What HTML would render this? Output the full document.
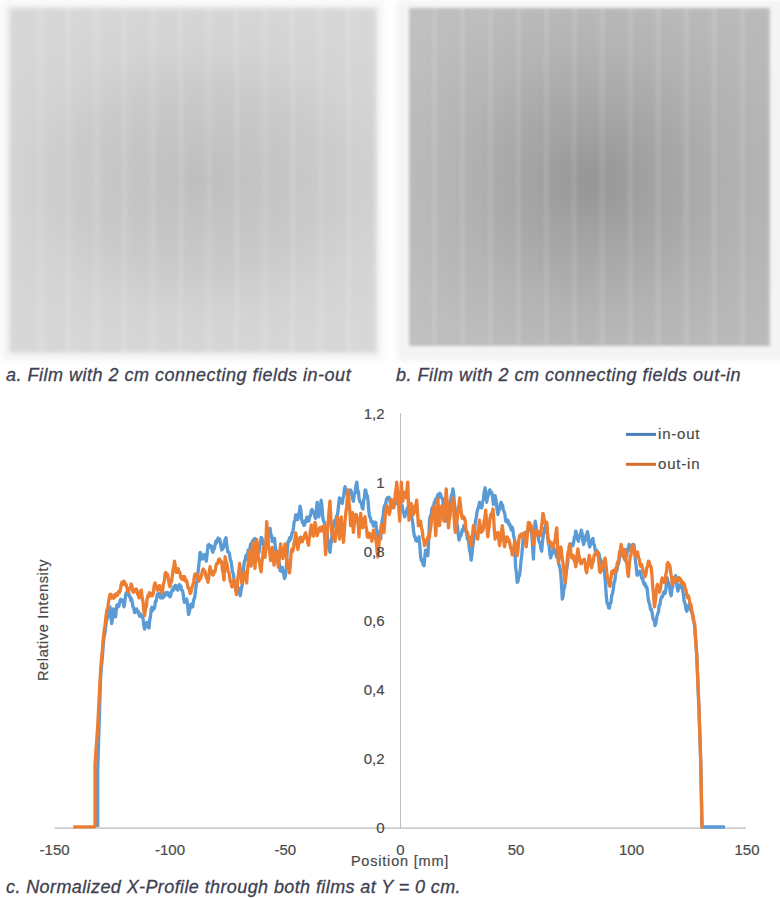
<!DOCTYPE html>
<html><head><meta charset="utf-8">
<style>
html,body{margin:0;padding:0;background:#fff;}
body{width:780px;height:898px;position:relative;overflow:hidden;font-family:"Liberation Sans",sans-serif;}
.film{position:absolute;filter:blur(1.6px);}
#fa{left:8.5px;top:8px;width:368px;height:344.5px;filter:blur(2.1px);
 background:
  repeating-linear-gradient(90deg, rgba(255,255,255,0) 0px, rgba(255,255,255,0) 21.5px, rgba(255,255,255,0.2) 25px, rgba(255,255,255,0) 28px),
  radial-gradient(ellipse 210px 150px at 191.5px 172px, #bebebe 0%, #c4c4c4 30%, #cacaca 60%, #d3d3d3 90%, #d7d7d7 120%, #d8d8d8 150%);
 background-position: 6.9px 0, 0 0;}
#fah{left:2px;top:1px;width:381px;height:360px;background:#f6f6f6;filter:blur(2px);}
#fbh{left:397px;top:1px;width:390px;height:360px;background:#f4f4f4;filter:blur(2px);}
#fb{left:409px;top:7.5px;width:361px;height:338.5px;filter:blur(1.8px);
 background:
  repeating-linear-gradient(90deg, rgba(255,255,255,0) 0px, rgba(255,255,255,0) 21.5px, rgba(255,255,255,0.16) 25px, rgba(255,255,255,0) 28px),
  linear-gradient(90deg, rgba(255,255,255,0.03), rgba(0,0,0,0.02)),
  radial-gradient(ellipse 200px 185px at 181px 172.5px, #959595 0%, #a5a5a5 35%, #b3b3b3 70%, #bbbbbb 100%, #bfbfbf 130%);
 background-position: 0.3px 0, 0 0, 0 0;}
.cap{position:absolute;font-style:italic;color:#3d4150;font-size:18px;line-height:18px;white-space:nowrap;-webkit-text-stroke:0.3px #3d4150;}
</style></head><body>
<div class="film" id="fah"></div>
<div class="film" id="fa"></div>
<div class="film" id="fbh"></div>
<div class="film" id="fb"></div>
<div class="cap" id="ca" style="left:6px;top:366px;letter-spacing:0.5px">a. Film with 2 cm connecting fields in-out</div>
<div class="cap" id="cb" style="left:396px;top:366px;letter-spacing:0.5px">b. Film with 2 cm connecting fields out-in</div>
<div class="cap" id="cc" style="left:6px;top:878px;letter-spacing:0.4px">c. Normalized X-Profile through both films at Y = 0 cm.</div>

<svg id="chart" width="780" height="898" style="position:absolute;left:0;top:0">
 <line x1="400.5" y1="413" x2="400.5" y2="828" stroke="#bfbfbf" stroke-width="1"/>
 <line x1="54.5" y1="828.1" x2="746" y2="828.1" stroke="#bababa" stroke-width="1.2"/>
 <g font-family="Liberation Sans" font-size="15" fill="#4a4a4a" stroke="#4a4a4a" stroke-width="0.2" text-anchor="middle">
  <text x="54.6" y="855">-150</text>
  <text x="170" y="855">-100</text>
  <text x="285.3" y="855">-50</text>
  <text x="400.5" y="855">0</text>
  <text x="516" y="855">50</text>
  <text x="631.5" y="855">100</text>
  <text x="747" y="855">150</text>
 </g>
 <text font-family="Liberation Sans" font-size="14.5" fill="#4a4a4a" stroke="#4a4a4a" stroke-width="0.2" text-anchor="middle" letter-spacing="0.8" x="400" y="865.5">Position [mm]</text>
 <text font-family="Liberation Sans" font-size="14.5" fill="#4a4a4a" stroke="#4a4a4a" stroke-width="0.2" text-anchor="middle" letter-spacing="0.65" transform="translate(47.5,620) rotate(-90)">Relative Intensity</text>
 <g id="lines"><polyline fill="none" stroke="#5b9bd5" stroke-width="3.3" stroke-linejoin="round" points="97.7,827.0 97.7,770.0 100.5,680.0 101.4,667.3 102.3,658.3 103.2,645.0 104.1,636.7 105.0,632.8 105.9,625.0 106.8,619.3 107.8,617.6 108.7,612.0 110.0,606.8 110.8,613.7 111.7,623.5 112.6,617.9 113.4,609.0 114.1,610.6 114.9,615.1 115.6,616.8 116.7,605.7 117.6,604.6 118.4,606.8 119.2,605.3 120.0,601.2 120.8,599.2 121.5,601.4 122.3,600.1 123.2,602.1 124.0,606.8 124.8,602.2 125.6,594.6 126.4,592.7 127.1,594.8 127.9,592.3 128.6,592.3 129.4,596.6 130.1,596.4 130.8,600.4 131.6,599.0 132.3,602.4 133.0,607.0 133.8,608.0 134.5,612.4 135.3,612.5 136.0,609.2 136.8,609.0 137.5,612.0 138.3,611.4 139.0,614.6 139.8,616.2 140.7,614.0 141.5,616.5 142.3,615.7 143.1,619.1 143.8,625.9 144.6,629.1 145.3,625.7 146.1,625.6 146.8,622.4 147.5,622.6 148.3,627.5 149.0,628.0 149.7,620.2 150.5,616.4 151.2,609.0 151.9,607.2 152.6,610.7 153.3,608.0 154.0,609.0 154.7,607.1 155.4,601.4 156.1,601.4 156.8,596.8 157.5,594.0 158.3,595.9 159.0,593.5 159.8,593.3 160.5,597.9 161.3,597.9 162.0,596.0 162.8,597.9 163.5,594.0 164.2,596.6 165.0,592.9 165.7,593.5 166.4,594.4 167.2,592.4 167.9,592.6 168.6,595.7 169.3,594.1 170.0,596.8 170.7,595.8 171.5,591.3 172.2,590.1 173.0,590.6 173.8,586.8 174.5,589.0 175.3,585.3 176.1,585.7 176.9,589.2 177.8,590.1 178.7,586.0 179.5,584.6 180.2,587.6 180.9,586.0 181.6,590.0 182.3,590.1 183.0,592.9 183.8,599.2 184.5,602.4 185.2,600.3 186.0,601.7 186.7,599.0 187.6,605.0 188.6,614.6 189.6,611.0 190.6,604.6 191.3,604.1 192.1,607.1 192.8,606.8 193.7,599.9 194.7,597.5 195.6,590.1 196.4,583.5 197.3,580.1 198.4,569.0 199.2,562.0 200.1,552.3 200.8,552.9 201.6,557.9 202.3,559.0 203.0,556.1 203.8,557.8 204.5,554.5 205.3,556.4 206.2,561.2 207.1,554.7 207.9,545.6 208.8,544.5 209.8,547.0 210.7,545.6 211.4,546.1 212.2,551.0 212.9,552.3 213.6,548.1 214.4,548.7 215.1,544.5 215.8,541.3 216.6,543.1 217.3,540.0 218.1,538.0 218.8,540.6 219.6,538.9 220.3,541.2 221.1,547.6 221.8,550.0 222.5,547.2 223.3,548.0 224.0,544.5 225.0,539.7 226.0,537.8 226.9,546.1 227.9,552.3 228.8,552.0 229.6,554.5 230.3,559.9 231.1,561.4 231.8,566.7 232.5,572.0 233.3,573.5 234.0,579.0 234.8,583.8 235.5,584.2 236.3,589.0 237.0,589.9 237.8,587.3 238.5,587.9 239.3,592.9 240.2,595.7 241.2,589.4 242.2,585.2 243.0,578.5 243.7,567.2 244.5,560.7 245.2,560.5 246.0,555.3 246.7,555.1 247.4,554.9 248.2,550.2 248.9,549.5 249.7,549.2 250.6,544.1 251.4,544.6 252.2,541.7 253.0,540.2 253.9,541.5 254.8,538.5 255.6,539.5 256.4,544.0 257.2,545.2 258.1,551.0 258.9,552.9 259.7,546.5 260.4,543.5 261.2,537.3 262.0,538.5 262.8,541.7 263.5,544.5 264.2,543.4 264.9,547.0 265.6,547.3 266.4,542.6 267.1,542.3 267.9,536.7 268.6,536.0 269.4,530.6 270.1,528.4 270.8,534.1 271.6,536.0 272.3,541.7 273.0,541.7 273.8,538.5 274.5,538.4 275.6,549.5 276.4,552.7 277.1,551.1 277.9,554.0 278.6,560.7 279.4,563.7 280.1,570.7 280.8,571.2 281.6,567.6 282.3,567.4 283.0,572.0 283.8,573.8 284.5,578.5 285.4,575.6 286.2,569.6 287.0,554.6 287.9,541.7 288.7,542.1 289.5,538.0 290.4,539.8 291.2,537.3 292.0,532.9 292.7,532.4 293.5,527.3 294.2,521.6 295.0,520.5 295.7,515.0 296.4,515.4 297.2,519.5 297.9,519.5 298.6,513.8 299.4,512.0 300.1,506.1 300.9,510.5 301.6,518.7 302.4,522.8 303.1,522.6 303.9,525.4 304.6,525.0 305.3,520.6 306.1,521.5 306.8,517.2 307.5,517.2 308.3,521.1 309.0,520.6 309.8,516.1 310.5,515.7 311.3,510.6 312.0,509.4 312.8,512.6 313.5,511.7 314.2,512.8 315.0,517.1 315.7,518.4 316.4,508.7 317.2,502.3 318.0,510.5 318.9,516.8 319.6,509.6 320.4,507.4 321.1,500.1 321.9,505.7 322.6,515.2 323.4,521.2 324.3,521.8 325.2,527.4 326.1,527.9 326.9,531.3 327.7,539.1 328.4,541.4 329.2,548.7 330.0,552.4 330.7,545.2 331.4,541.7 332.1,532.7 332.8,527.9 333.5,526.4 334.3,521.7 335.0,520.1 335.8,520.1 336.5,516.0 337.3,515.7 338.0,511.1 338.8,502.6 339.5,497.8 340.2,500.9 340.9,498.9 341.6,502.9 342.3,503.4 343.0,498.1 343.7,496.2 344.4,489.1 345.1,486.7 345.8,490.9 346.6,490.7 347.3,494.5 348.1,494.5 349.0,490.7 349.8,492.8 350.6,490.0 351.5,492.0 352.5,498.7 353.4,501.2 354.2,494.8 355.1,493.2 355.9,485.6 356.8,482.2 357.5,489.2 358.3,491.5 359.0,497.8 359.9,501.6 360.7,502.3 361.4,503.6 362.2,507.8 362.9,509.0 363.6,500.9 364.4,497.4 365.1,490.0 365.8,490.3 366.6,495.2 367.3,495.6 368.1,501.0 368.8,511.0 369.6,516.8 370.3,517.4 371.1,521.6 371.8,522.3 372.5,521.8 373.3,526.0 374.0,525.7 374.9,522.2 375.7,522.3 376.4,528.8 377.2,530.9 377.9,536.8 378.6,538.7 379.3,536.9 380.0,539.4 380.7,539.0 381.5,528.0 382.4,519.0 383.1,516.2 383.9,508.5 384.6,505.6 385.5,504.6 386.5,499.2 387.4,497.8 388.1,499.0 388.9,497.3 389.6,498.3 390.3,503.8 391.0,503.8 391.7,507.9 392.5,506.8 393.4,502.5 394.2,502.4 395.0,499.0 395.7,498.8 396.5,503.3 397.2,503.4 398.1,501.1 398.9,503.6 399.8,500.6 400.6,501.2 401.4,505.9 402.2,505.8 402.9,511.5 403.7,512.2 404.5,516.8 405.2,515.6 405.9,511.3 406.6,511.8 407.3,507.9 408.0,507.2 408.7,509.6 409.4,506.9 410.1,509.0 411.0,515.1 411.9,517.7 412.8,523.5 413.6,531.2 414.5,536.8 415.2,536.8 415.9,540.6 416.6,539.2 417.3,541.3 418.1,540.8 419.0,536.8 419.8,545.6 420.6,556.9 421.5,560.9 422.3,559.6 423.1,564.7 424.0,565.8 424.8,556.9 425.6,550.2 426.4,553.4 427.1,552.9 427.9,555.7 428.7,539.4 429.5,520.1 430.4,515.8 431.2,514.3 432.0,508.3 432.9,506.7 433.6,506.2 434.4,501.9 435.1,503.0 435.8,498.9 436.6,499.3 437.3,496.7 438.1,494.4 439.0,497.4 439.9,493.3 440.7,494.5 441.4,497.7 442.2,497.9 442.9,501.2 443.6,507.7 444.3,509.4 445.0,517.6 445.7,521.2 446.4,516.9 447.1,517.1 447.8,511.7 448.5,510.1 449.2,508.0 450.0,501.9 450.7,500.6 451.4,495.0 452.2,493.6 452.9,488.9 453.7,493.8 454.4,503.6 455.2,509.0 456.0,513.8 456.8,523.0 457.5,526.0 458.3,535.2 459.1,540.2 460.0,536.4 460.8,536.2 461.7,532.4 462.4,529.5 463.1,530.7 463.8,525.7 464.5,525.7 465.2,529.8 466.0,530.4 466.7,534.6 467.4,539.0 468.2,539.1 468.9,543.5 469.6,550.5 470.4,553.5 471.1,560.2 471.9,555.2 472.6,547.2 473.4,542.4 474.1,535.9 474.9,526.1 475.6,520.1 476.3,517.4 477.1,511.7 477.8,509.0 478.6,507.1 479.5,502.3 480.2,503.0 481.0,507.6 481.7,507.9 482.6,501.5 483.4,499.5 484.2,491.8 485.1,487.8 485.9,496.4 486.7,502.3 487.5,497.0 488.2,495.9 489.0,491.2 489.9,489.8 490.8,493.0 491.7,492.3 492.5,496.8 493.4,504.5 494.2,501.8 495.1,495.6 496.0,500.3 497.0,509.4 497.9,514.5 498.7,510.5 499.5,509.8 500.4,503.6 501.2,502.3 501.9,505.7 502.6,505.0 503.3,510.0 504.0,511.2 504.9,514.4 505.7,521.0 506.6,522.0 507.4,519.9 508.3,521.2 509.1,525.1 509.8,524.0 510.6,527.8 511.3,529.9 512.1,526.9 512.8,529.0 513.6,535.6 514.5,539.0 515.6,566.8 516.4,573.1 517.2,582.4 518.0,581.2 518.7,576.6 519.5,575.7 520.2,570.1 521.0,560.8 521.7,555.7 522.5,546.6 523.4,534.5 524.2,533.2 525.0,535.0 525.7,532.1 526.5,535.2 527.3,533.4 528.0,528.7 528.8,528.1 529.5,523.4 530.2,525.1 531.0,531.4 531.7,533.4 532.5,544.9 533.4,559.0 534.2,541.3 535.1,521.2 535.8,524.1 536.6,530.3 537.3,533.4 538.0,534.9 538.8,540.6 539.5,542.3 540.2,543.9 541.0,549.2 541.7,551.2 542.5,541.6 543.4,534.5 544.1,532.5 544.8,527.4 545.5,526.5 546.2,522.3 546.9,527.3 547.7,536.9 548.4,542.3 549.2,546.2 549.9,554.2 550.7,557.9 551.5,554.3 552.4,553.8 553.2,549.0 554.0,547.9 554.8,551.8 555.6,551.4 556.5,556.7 557.3,557.9 558.1,559.0 558.8,564.7 559.6,565.7 560.7,572.4 561.5,584.6 562.3,599.1 563.1,596.4 563.8,589.6 564.6,586.9 565.3,582.0 566.1,573.7 566.8,569.0 567.5,564.3 568.2,555.0 568.9,552.4 569.6,544.5 570.4,543.7 571.2,546.6 572.1,544.5 572.9,545.7 573.6,543.0 574.3,537.1 575.0,536.5 575.7,531.2 576.6,533.5 577.6,539.5 578.5,541.2 579.4,535.8 580.4,535.0 581.3,530.1 582.1,533.4 582.9,541.4 583.7,544.5 584.4,540.7 585.2,540.9 585.9,535.2 586.7,535.6 587.4,531.6 588.2,535.1 589.0,543.6 589.8,547.0 590.6,543.1 591.3,544.1 592.1,539.5 592.9,538.4 593.7,543.6 594.5,545.4 595.3,550.6 596.1,552.6 596.8,550.3 597.6,553.4 598.4,553.1 599.1,554.0 599.9,559.5 600.6,559.2 601.4,562.9 602.2,566.4 603.0,566.2 603.7,570.9 604.5,571.5 605.3,581.2 606.2,594.5 607.0,603.3 607.8,603.3 608.6,608.0 609.4,608.2 610.2,603.4 611.0,602.6 611.7,595.4 612.5,593.5 613.2,589.9 614.0,582.7 614.8,581.4 615.5,575.1 616.2,570.4 617.0,570.3 617.7,564.3 618.5,564.1 619.2,559.2 620.0,554.2 620.9,553.9 621.7,549.4 622.4,550.0 623.1,555.1 623.9,555.0 624.6,559.4 625.3,560.4 626.0,556.2 626.8,555.8 627.5,549.1 628.3,548.7 629.0,544.5 629.8,545.5 630.7,550.7 631.5,551.9 632.3,548.4 633.1,548.1 633.9,544.5 634.7,551.0 635.5,561.4 636.2,566.5 637.0,575.1 637.8,575.2 638.5,571.9 639.2,573.1 640.0,571.2 640.8,572.5 641.6,578.2 642.5,577.9 643.3,582.3 644.1,584.5 645.0,583.4 645.9,587.1 646.7,586.8 647.4,590.9 648.2,598.6 648.9,602.4 649.7,604.0 650.5,609.5 651.4,609.1 652.2,613.5 653.1,619.2 654.1,619.9 655.0,625.7 655.9,623.0 656.9,616.2 657.8,613.5 658.5,611.8 659.2,605.2 659.9,604.9 660.6,600.1 661.5,596.7 662.5,596.9 663.4,593.5 664.1,591.7 664.9,593.6 665.6,591.2 666.5,583.5 667.3,577.9 668.0,582.4 668.8,582.4 669.5,586.8 670.4,593.0 671.2,595.7 671.9,588.9 672.7,587.1 673.4,580.1 674.1,577.6 674.9,578.5 675.6,575.6 676.4,579.4 677.1,587.2 677.9,591.2 678.6,587.6 679.4,588.0 680.1,584.5 680.8,584.3 681.6,587.7 682.3,587.9 683.0,591.4 683.8,598.9 684.5,602.4 685.3,604.2 686.0,609.6 686.8,611.3 687.5,607.5 688.3,608.3 689.0,604.6 689.9,605.7 690.9,611.0 691.8,612.0 692.5,614.3 693.2,620.1 693.9,621.6 694.6,626.0 695.3,636.8 696.0,643.9 696.7,655.0 698.9,707.0 700.7,760.4 702.0,827.0 725.0,827.0"/><polyline fill="none" stroke="#ed7d31" stroke-width="3.3" stroke-linejoin="round" points="73.2,826.8 95.0,826.8 95.0,764.6 97.7,726.4 100.5,671.9 101.4,659.2 102.3,651.8 103.2,639.1 104.1,630.9 105.0,625.5 105.9,617.3 106.8,610.2 107.8,607.9 108.7,600.9 110.0,594.6 110.8,594.2 111.5,598.0 112.3,597.9 113.0,595.9 113.8,598.2 114.5,594.8 115.2,596.7 116.0,593.9 116.7,594.6 117.6,595.1 118.6,591.5 119.5,592.3 120.3,590.2 121.2,584.5 122.0,582.1 122.8,584.5 123.7,581.2 124.5,581.8 125.2,584.6 126.0,584.2 126.7,586.8 127.6,590.5 128.4,592.3 129.3,588.2 130.3,588.0 131.2,584.0 131.9,585.5 132.7,591.2 133.4,592.3 134.3,589.8 135.3,591.5 136.2,589.0 136.9,590.1 137.6,594.4 138.3,594.5 139.0,597.9 139.8,596.3 140.6,591.3 141.4,590.1 142.2,598.3 143.0,601.4 143.8,610.4 144.6,615.7 145.4,609.0 146.2,607.3 147.1,599.1 147.9,595.7 148.6,596.7 149.4,592.6 150.1,593.5 150.9,595.8 151.6,593.7 152.4,595.7 153.3,593.2 154.2,585.4 155.1,582.9 155.9,586.3 156.6,586.1 157.4,590.1 158.1,590.2 158.9,585.9 159.6,585.7 160.3,588.7 161.0,587.7 161.7,592.4 162.4,592.3 163.3,584.5 164.3,581.0 165.2,572.9 165.9,572.6 166.6,576.5 167.3,574.0 168.0,576.7 169.0,583.1 170.0,586.8 170.7,582.1 171.5,581.9 172.2,576.8 173.0,570.0 173.7,567.7 174.5,561.2 175.3,565.7 176.1,572.3 176.9,572.4 177.6,568.6 178.4,569.0 179.1,572.6 179.9,572.5 180.6,576.8 181.3,578.7 182.1,576.5 182.8,579.0 183.5,579.8 184.3,576.5 185.0,577.9 185.8,581.3 186.5,580.3 187.3,583.5 188.2,588.2 189.2,588.7 190.1,593.5 191.0,592.3 191.9,587.1 192.8,585.7 193.7,581.8 194.5,575.7 195.2,573.9 196.0,576.6 196.7,574.5 197.5,575.3 198.2,579.9 199.0,581.2 199.9,577.3 200.8,578.3 201.7,574.5 202.6,570.0 203.4,569.0 204.1,571.9 204.9,571.1 205.6,574.5 206.4,578.1 207.1,578.2 207.9,582.3 208.6,578.2 209.4,570.8 210.1,566.7 210.8,571.0 211.6,570.9 212.3,574.5 213.1,575.1 213.8,571.4 214.6,572.3 215.3,570.5 216.1,565.3 216.8,563.4 217.7,563.6 218.7,559.2 219.6,559.0 220.3,562.0 221.1,561.0 221.8,563.4 222.5,570.2 223.3,573.5 224.0,580.1 225.1,556.7 225.9,561.5 226.6,562.4 227.4,566.7 228.1,571.8 228.9,572.5 229.6,576.8 230.3,581.7 231.1,582.5 231.8,586.8 232.5,585.7 233.3,580.7 234.0,580.1 234.8,586.0 235.5,588.7 236.3,594.6 237.1,588.3 237.9,577.8 238.8,572.1 239.6,563.4 240.6,571.4 241.7,583.0 242.4,581.2 243.1,576.5 243.8,575.8 244.5,571.8 245.2,574.1 246.0,580.8 246.7,583.0 247.4,571.6 248.2,563.4 248.9,551.8 249.6,555.7 250.4,562.7 251.1,566.2 251.9,552.4 252.8,541.7 253.5,552.2 254.3,557.9 255.0,568.5 255.8,555.6 256.7,539.5 257.4,544.9 258.2,555.2 258.9,560.7 259.7,563.1 260.4,569.2 261.2,571.8 261.9,562.1 262.7,556.7 263.4,547.3 264.2,551.3 265.1,557.3 265.9,540.8 266.7,521.7 267.5,531.2 268.4,544.0 269.1,550.6 269.9,553.7 270.6,560.7 271.5,555.3 272.3,547.3 273.1,554.8 274.0,565.1 274.7,561.7 275.5,554.5 276.2,551.8 276.9,558.1 277.7,560.8 278.4,567.4 279.1,560.9 279.9,550.9 280.6,544.0 281.4,550.2 282.1,552.6 282.9,558.5 283.6,554.6 284.4,547.9 285.1,544.0 285.8,551.7 286.6,556.3 287.3,564.0 288.1,568.4 288.8,568.6 289.6,572.9 290.4,564.1 291.2,551.8 292.0,548.9 292.7,551.3 293.5,548.4 294.2,542.1 295.0,539.3 295.7,532.8 296.4,537.2 297.2,545.4 297.9,549.5 298.6,544.0 299.4,543.0 300.1,537.3 300.9,537.2 301.6,541.4 302.4,541.7 303.2,538.2 304.0,538.6 304.9,534.1 305.7,532.8 306.4,536.8 307.1,537.7 307.8,543.0 308.5,545.1 309.2,538.5 309.9,536.2 310.6,529.0 311.3,525.0 312.0,529.8 312.8,531.4 313.5,536.2 314.2,530.3 315.0,522.3 315.7,525.4 316.5,532.6 317.2,535.7 318.0,531.9 318.7,532.0 319.5,527.9 320.2,527.5 321.0,531.1 321.7,530.1 322.4,526.9 323.2,528.7 323.9,525.7 324.8,538.9 325.6,554.6 326.3,546.3 327.1,533.9 327.8,525.7 328.5,518.5 329.3,508.1 330.0,501.2 330.9,518.2 331.7,532.4 332.5,533.5 333.4,536.8 334.2,540.0 335.0,541.3 335.8,531.5 336.5,526.2 337.3,516.8 338.0,522.8 338.8,533.3 339.5,539.0 340.4,526.5 341.2,516.8 341.9,526.5 342.7,532.1 343.4,542.4 344.1,534.3 344.9,522.9 345.6,514.5 346.5,507.9 347.5,497.2 348.4,490.0 349.1,503.1 349.9,512.1 350.6,525.7 351.5,520.5 352.3,512.3 353.4,532.4 354.1,525.5 354.9,521.8 355.6,514.5 356.4,514.7 357.1,518.8 357.9,519.0 359.0,536.8 359.9,524.0 360.7,513.4 361.4,519.7 362.2,522.1 362.9,527.9 363.6,525.4 364.4,519.3 365.1,516.8 365.8,525.2 366.6,529.2 367.3,536.8 368.1,537.3 368.8,533.5 369.6,533.5 370.3,537.5 371.1,537.4 371.8,541.3 372.6,537.0 373.5,530.1 374.2,531.5 375.0,537.3 375.7,539.0 376.4,544.0 377.2,551.9 377.9,556.9 378.8,545.9 379.6,536.8 380.5,532.4 381.3,524.6 382.2,525.7 383.1,531.6 384.0,532.4 385.2,516.8 386.0,509.7 386.8,505.6 387.6,509.5 388.5,510.0 389.3,514.5 390.0,511.1 390.8,502.9 391.5,499.5 392.3,503.6 393.1,503.9 393.9,507.9 394.6,502.8 395.3,493.4 396.0,489.8 396.7,482.2 397.4,489.7 398.2,500.0 399.0,511.8 399.8,521.0 400.6,499.8 401.3,482.2 402.1,493.3 402.8,501.2 403.6,495.0 404.5,492.3 405.4,496.7 406.2,497.8 407.0,488.8 407.8,482.2 408.9,520.1 409.7,515.6 410.4,507.6 411.2,503.4 411.9,508.2 412.7,509.5 413.4,514.5 414.2,512.4 415.0,505.6 415.9,505.1 416.7,500.1 417.5,511.3 418.4,525.7 419.1,525.2 419.9,521.5 420.6,521.2 421.4,527.9 422.2,530.0 422.9,537.2 423.7,539.8 424.5,545.7 425.2,545.0 425.9,540.6 426.6,542.5 427.3,539.0 428.0,536.8 428.8,538.5 429.5,536.8 430.2,530.1 430.9,526.8 431.6,518.6 432.3,514.5 433.1,512.1 434.0,506.7 434.9,519.9 435.7,535.7 436.4,524.8 437.2,510.2 437.9,499.0 438.8,513.7 439.6,525.7 440.3,517.2 441.1,513.9 441.8,505.6 442.5,509.8 443.3,517.4 444.0,521.2 444.7,508.9 445.5,500.8 446.2,488.9 447.0,500.2 447.7,516.2 448.5,527.9 449.2,520.1 450.0,516.6 450.7,509.0 451.4,503.5 452.2,503.1 452.9,497.8 453.7,507.9 454.4,521.9 455.2,532.4 455.9,525.9 456.7,522.9 457.4,516.8 458.1,509.0 458.9,505.8 459.6,497.8 460.6,506.2 461.7,516.8 462.4,518.4 463.1,516.0 463.8,518.9 464.5,517.9 465.2,521.2 466.0,529.3 466.7,532.4 467.4,532.3 468.2,536.7 468.9,536.8 469.6,538.0 470.4,543.9 471.1,545.7 471.9,537.5 472.6,533.9 473.4,525.7 474.1,526.3 474.9,531.8 475.6,532.4 476.3,533.5 477.1,538.3 477.8,539.0 478.6,528.3 479.5,520.1 480.4,527.8 481.2,532.4 481.9,529.1 482.7,530.9 483.4,527.9 484.1,521.1 484.9,517.4 485.6,510.1 486.3,517.5 487.1,529.6 487.8,536.8 488.6,529.0 489.3,525.8 490.1,517.9 491.0,514.0 492.0,513.7 492.9,509.0 493.6,517.4 494.4,530.4 495.1,539.0 496.0,535.1 497.0,536.3 497.9,532.4 498.7,538.1 499.5,545.7 500.2,542.3 500.9,534.1 501.6,531.8 502.3,525.7 503.0,531.2 503.8,541.2 504.5,546.8 505.3,542.4 506.0,541.8 506.8,536.8 507.5,537.2 508.2,541.1 508.9,539.7 509.6,542.4 510.5,547.7 511.4,549.4 512.3,555.0 513.2,551.7 514.1,544.7 515.0,541.2 515.7,547.8 516.5,549.9 517.2,555.7 518.0,549.9 518.7,541.0 519.5,535.6 520.2,537.3 521.0,534.1 521.7,535.6 522.5,536.1 523.4,533.4 524.1,535.4 524.8,541.6 525.5,542.2 526.2,546.8 526.9,539.8 527.7,529.1 528.4,522.3 529.1,524.0 529.8,523.0 530.5,526.4 531.2,525.6 531.9,530.8 532.7,539.8 533.4,544.5 534.1,538.5 534.9,536.9 535.6,531.2 536.4,530.1 537.1,533.5 537.9,532.3 538.8,531.7 539.7,535.5 540.6,535.6 541.4,527.2 542.1,522.0 542.9,513.4 543.6,515.4 544.4,521.2 545.1,523.4 546.0,521.9 546.8,522.3 547.6,533.7 548.4,542.3 549.2,540.5 549.9,543.5 550.7,542.3 551.4,542.8 552.2,547.3 552.9,547.9 553.8,543.8 554.6,542.3 555.3,539.2 556.1,531.5 556.8,527.8 557.6,546.6 558.5,562.4 559.2,555.9 560.0,553.4 560.7,546.8 561.4,550.3 562.2,558.2 562.9,562.4 563.6,567.4 564.4,576.9 565.1,582.4 565.9,572.8 566.6,567.7 567.4,557.9 568.1,551.9 568.9,550.2 569.6,544.5 570.3,547.3 571.1,554.4 571.8,557.9 572.6,555.3 573.5,555.7 574.2,560.7 575.0,561.7 575.7,566.8 576.4,562.5 577.2,553.3 577.9,549.0 578.7,554.9 579.4,556.8 580.2,562.4 581.0,563.8 581.8,562.9 582.6,560.4 583.5,561.5 584.3,559.2 585.1,562.6 585.9,570.0 586.7,572.7 587.5,566.0 588.4,562.9 589.2,555.5 590.0,558.4 590.8,564.9 591.6,567.8 592.4,563.2 593.2,562.0 593.9,556.4 594.7,554.3 595.5,554.7 596.2,551.8 597.0,553.7 597.8,551.9 598.7,560.0 599.6,571.5 600.4,572.4 601.3,568.5 602.1,569.0 602.9,567.7 603.6,561.8 604.4,561.9 605.1,558.0 605.9,563.9 606.8,573.0 607.6,578.8 608.4,580.2 609.2,585.2 610.0,586.2 611.0,577.6 611.9,571.5 612.6,573.0 613.4,570.5 614.1,573.5 614.9,572.7 615.7,568.3 616.5,568.7 617.2,563.2 618.0,561.7 618.8,559.0 619.5,551.9 620.3,550.5 621.1,544.5 622.0,548.9 622.9,556.8 623.8,554.5 624.7,549.4 625.4,553.3 626.2,562.0 626.9,564.0 627.7,572.6 628.4,576.4 629.3,564.9 630.2,556.8 631.0,554.4 631.9,547.0 632.7,544.5 633.5,549.4 634.2,549.5 635.0,555.2 635.8,556.8 636.7,552.8 637.6,551.9 638.4,557.3 639.2,559.0 640.0,564.5 640.7,566.3 641.5,564.2 642.2,566.7 643.1,571.3 644.1,572.0 645.0,576.7 645.9,574.5 646.7,567.9 647.5,566.8 648.4,561.2 649.3,562.0 650.2,565.8 651.1,566.7 652.0,575.5 652.8,588.0 653.6,595.0 654.5,606.8 655.4,601.1 656.4,590.3 657.3,584.5 658.0,588.4 658.8,588.3 659.5,592.3 660.4,588.6 661.4,581.0 662.3,577.9 663.0,580.3 663.7,578.9 664.4,582.7 665.1,582.3 665.8,575.0 666.6,570.9 667.3,563.4 668.0,562.5 668.7,566.0 669.4,564.8 670.1,566.7 670.8,573.7 671.6,577.4 672.3,584.5 673.0,583.6 673.8,579.0 674.5,577.9 675.4,580.2 676.4,579.0 677.3,581.2 678.0,581.2 678.8,577.6 679.5,577.9 680.3,580.6 681.0,579.6 681.8,582.3 682.7,584.6 683.6,582.8 684.5,584.5 685.3,589.3 686.0,590.3 686.8,595.7 687.5,597.7 688.3,595.6 689.0,597.9 689.9,603.0 690.9,604.7 691.8,610.2 692.5,615.2 693.2,615.6 693.9,621.8 694.6,623.5 695.3,632.1 696.0,644.8 696.7,653.5 698.9,707.0 700.7,760.4 702.0,827.0 704.0,827.0"/></g>
 <g font-family="Liberation Sans" font-size="15" fill="#4a4a4a" stroke="#4a4a4a" stroke-width="0.2" text-anchor="end">
  <text x="384.5" y="418.5">1,2</text>
  <text x="384.5" y="487.5">1</text>
  <text x="384.5" y="556.5">0,8</text>
  <text x="384.5" y="625.5">0,6</text>
  <text x="384.5" y="694.5">0,4</text>
  <text x="384.5" y="763.5">0,2</text>
  <text x="384.5" y="832.5">0</text>
 </g>
 <line x1="626" y1="434.4" x2="656" y2="434.4" stroke="#4a7fba" stroke-width="3"/>
 <line x1="626" y1="464.3" x2="656" y2="464.3" stroke="#d56d2e" stroke-width="3"/>
 <g font-family="Liberation Sans" font-size="15" fill="#4a4a4a" stroke="#4a4a4a" stroke-width="0.2" letter-spacing="0.8">
  <text x="658" y="439.2">in-out</text>
  <text x="658" y="468.8">out-in</text>
 </g>
</svg>
</body></html>
